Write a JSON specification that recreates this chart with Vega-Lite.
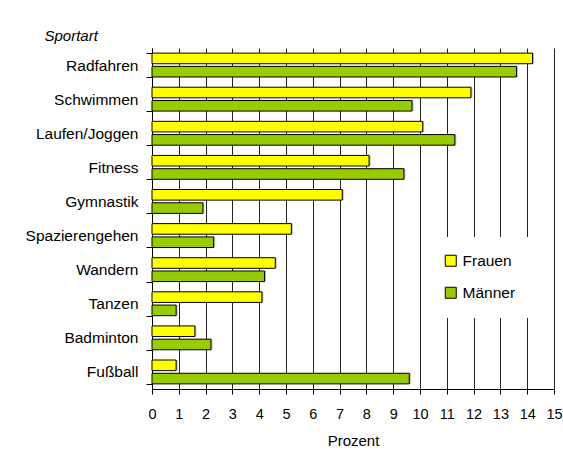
{
  "$schema": "https://vega.github.io/schema/vega-lite/v6.json",
  "autosize": {"type": "none"},
  "width": 402,
  "height": 341,
  "padding": {"left": 152, "top": 48, "right": 9, "bottom": 70},
  "background": "white",
  "config": {
    "font": "Liberation Sans",
    "view": {"stroke": null}
  },
  "data": {
    "values": [
      {"Sportart": "Radfahren", "Geschlecht": "Frauen", "Prozent": 14.2},
      {"Sportart": "Radfahren", "Geschlecht": "Männer", "Prozent": 13.6},
      {"Sportart": "Schwimmen", "Geschlecht": "Frauen", "Prozent": 11.9},
      {"Sportart": "Schwimmen", "Geschlecht": "Männer", "Prozent": 9.7},
      {"Sportart": "Laufen/Joggen", "Geschlecht": "Frauen", "Prozent": 10.1},
      {"Sportart": "Laufen/Joggen", "Geschlecht": "Männer", "Prozent": 11.3},
      {"Sportart": "Fitness", "Geschlecht": "Frauen", "Prozent": 8.1},
      {"Sportart": "Fitness", "Geschlecht": "Männer", "Prozent": 9.4},
      {"Sportart": "Gymnastik", "Geschlecht": "Frauen", "Prozent": 7.1},
      {"Sportart": "Gymnastik", "Geschlecht": "Männer", "Prozent": 1.9},
      {"Sportart": "Spazierengehen", "Geschlecht": "Frauen", "Prozent": 5.2},
      {"Sportart": "Spazierengehen", "Geschlecht": "Männer", "Prozent": 2.3},
      {"Sportart": "Wandern", "Geschlecht": "Frauen", "Prozent": 4.6},
      {"Sportart": "Wandern", "Geschlecht": "Männer", "Prozent": 4.2},
      {"Sportart": "Tanzen", "Geschlecht": "Frauen", "Prozent": 4.1},
      {"Sportart": "Tanzen", "Geschlecht": "Männer", "Prozent": 0.9},
      {"Sportart": "Badminton", "Geschlecht": "Frauen", "Prozent": 1.6},
      {"Sportart": "Badminton", "Geschlecht": "Männer", "Prozent": 2.2},
      {"Sportart": "Fußball", "Geschlecht": "Frauen", "Prozent": 0.9},
      {"Sportart": "Fußball", "Geschlecht": "Männer", "Prozent": 9.6}
    ]
  },
  "encoding": {
    "y": {
      "field": "Sportart",
      "type": "nominal",
      "sort": null,
      "scale": {"paddingInner": 0.3, "paddingOuter": 0.15},
      "axis": {
        "title": "Sportart",
        "titleAngle": 0,
        "titleFontStyle": "italic",
        "titleFontWeight": "normal",
        "titleFontSize": 15,
        "titleColor": "black",
        "titleAlign": "left",
        "titleBaseline": "alphabetic",
        "titleX": -108,
        "titleY": -8,
        "labelFontSize": 15.5,
        "labelColor": "black",
        "labelPadding": 8,
        "tickBand": "extent",
        "tickSize": 6,
        "tickColor": "black",
        "domainColor": "black",
        "grid": false
      }
    },
    "yOffset": {
      "field": "Geschlecht",
      "type": "nominal",
      "scale": {"paddingInner": 0.2, "paddingOuter": 0}
    },
    "x": {
      "field": "Prozent",
      "type": "quantitative",
      "scale": {"domain": [0, 15], "nice": false},
      "axis": {
        "title": "Prozent",
        "titleFontSize": 15,
        "titleFontWeight": "normal",
        "titleColor": "black",
        "titlePadding": 13,
        "values": [0, 1, 2, 3, 4, 5, 6, 7, 8, 9, 10, 11, 12, 13, 14, 15],
        "labelFontSize": 14.5,
        "labelColor": "black",
        "labelPadding": 13,
        "labelFlush": false,
        "tickSize": 5,
        "tickColor": "black",
        "domainColor": "black",
        "grid": true,
        "gridColor": "#222222",
        "gridOpacity": 1,
        "gridWidth": 1
      }
    }
  },
  "layer": [
    {
      "mark": {"type": "bar", "color": "#a0a0a0", "opacity": 0.7, "xOffset": 1.5, "yOffset": 1.5},
      "encoding": {}
    },
    {
      "mark": {"type": "bar", "stroke": "black", "strokeWidth": 1},
      "encoding": {
        "color": {
          "field": "Geschlecht",
          "type": "nominal",
          "scale": {"domain": ["Frauen", "Männer"], "range": ["#FFFF00", "#99CC00"]},
          "legend": {
            "title": null,
            "orient": "none",
            "legendX": 275,
            "legendY": 189,
            "fillColor": "white",
            "padding": 16,
            "symbolType": "square",
            "symbolSize": 121,
            "symbolStrokeColor": "black",
            "symbolStrokeWidth": 1,
            "symbolOpacity": 1,
            "labelFontSize": 15.5,
            "labelColor": "black",
            "labelOffset": 4,
            "rowPadding": 15
          }
        }
      }
    }
  ]
}
